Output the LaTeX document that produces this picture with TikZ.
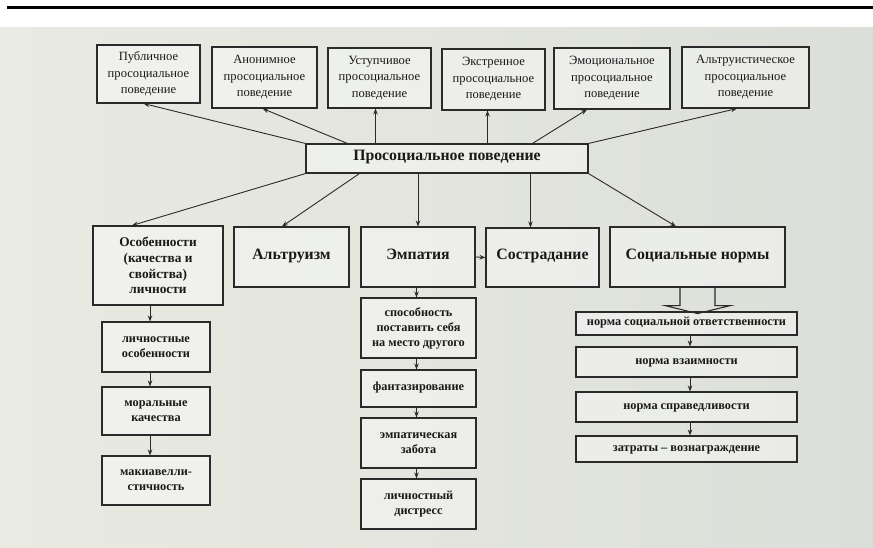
\documentclass[tikz,border=0pt]{standalone}
\usepackage{fontspec}
\setmainfont{Liberation Serif}
\usetikzlibrary{arrows.meta,calc}
\definecolor{ink}{HTML}{2A2A2A}
\definecolor{bgl}{HTML}{E9EBE2}
\definecolor{bgr}{HTML}{DCDED9}
\begin{document}
\begin{tikzpicture}[x=1pt,y=-1pt,
  box/.style={draw=ink, line width=1.1pt, fill=white, fill opacity=0.4, text opacity=1,
              inner sep=0pt, align=center, text=black!90},
  oneline/.style={text height=0.7em, text depth=0.22em},
  ar/.style={draw=ink, line width=0.9pt, -{Stealth[length=6pt,width=4.5pt]}},
  toptext/.style={font=\fontsize{12.6}{16.5}\selectfont},
  maintext/.style={font=\bfseries\fontsize{15.8}{18}\selectfont},
  osotext/.style={font=\bfseries\fontsize{13.3}{15.8}\selectfont},
  subtext/.style={font=\bfseries\fontsize{12.3}{15}\selectfont}
]
\useasboundingbox (0,0) rectangle (873,548);
\fill[white] (0,0) rectangle (873,548);
\shade[left color=bgl, right color=bgr] (0,28) rectangle (873,548);
\fill[black] (7,6.5) rectangle (873,9.5);

% top row
\node[box, toptext, minimum width=103pt, minimum height=58pt] (t1) at (148.5,74) {Публичное\\просоциальное\\поведение};
\node[box, toptext, minimum width=105pt, minimum height=61pt] (t2) at (264.5,77.5) {Анонимное\\просоциальное\\поведение};
\node[box, toptext, minimum width=103pt, minimum height=60pt] (t3) at (379.5,78) {Уступчивое\\просоциальное\\поведение};
\node[box, toptext, minimum width=103pt, minimum height=61pt] (t4) at (493.5,79.5) {Экстренное\\просоциальное\\поведение};
\node[box, toptext, minimum width=116pt, minimum height=61pt] (t5) at (612,78.5) {Эмоциональное\\просоциальное\\поведение};
\node[box, toptext, minimum width=127pt, minimum height=61pt] (t6) at (745.5,77.5) {Альтруистическое\\просоциальное\\поведение};

% central
\node[box, maintext, oneline, minimum width=282pt, minimum height=29pt] (c) at (447,158.5) {Просоциальное поведение};

% second row
\node[box, osotext, minimum width=130pt, minimum height=79pt] (o) at (158,265.5) {Особенности\\(качества и\\свойства)\\личности};
\node[box, maintext, oneline, minimum width=115pt, minimum height=60pt] (al) at (291.5,257) {Альтруизм};
\node[box, maintext, oneline, minimum width=114pt, minimum height=60pt] (em) at (418,257) {Эмпатия};
\node[box, maintext, oneline, minimum width=113pt, minimum height=59pt] (so) at (542.5,257.5) {Сострадание};
\node[box, maintext, oneline, minimum width=175pt, minimum height=60pt] (sn) at (697.5,257) {Социальные нормы};

% left column
\node[box, subtext, minimum width=108pt, minimum height=50pt] (l1) at (156,347) {личностные\\особенности};
\node[box, subtext, minimum width=108pt, minimum height=48pt] (l2) at (156,411) {моральные\\качества};
\node[box, subtext, minimum width=108pt, minimum height=49pt] (l3) at (156,480.5) {макиавелли-\\стичность};

% empathy column
\node[box, subtext, minimum width=115pt, minimum height=60pt] (e1) at (418.5,328) {способность\\поставить себя\\на место другого};
\node[box, subtext, oneline, minimum width=115pt, minimum height=37pt] (e2) at (418.5,388.5) {фантазирование};
\node[box, subtext, minimum width=115pt, minimum height=50pt] (e3) at (418.5,443) {эмпатическая\\забота};
\node[box, subtext, minimum width=115pt, minimum height=50pt] (e4) at (418.5,504) {личностный\\дистресс};

% norms column
\node[box, subtext, oneline, minimum width=221pt, minimum height=23pt] (n1) at (686.5,323.5) {норма социальной ответственности};
\node[box, subtext, oneline, minimum width=221pt, minimum height=30pt] (n2) at (686.5,362) {норма взаимности};
\node[box, subtext, oneline, minimum width=221pt, minimum height=30pt] (n3) at (686.5,407) {норма справедливости};
\node[box, subtext, oneline, minimum width=221pt, minimum height=26pt] (n4) at (686.5,449) {затраты – вознаграждение};

% arrows to top row
\coordinate (a1) at ($(t1.south)+(-5,0)$);
\coordinate (a2) at ($(t2.south)+(-2,0)$);
\coordinate (a3) at ($(t3.south)+(-4,0)$);
\coordinate (a4) at ($(t4.south)+(-6,0)$);
\coordinate (a5) at ($(t5.south)+(-25,0)$);
\coordinate (a6) at ($(t6.south)+(-8.5,0)$);
\coordinate (s2) at ($(c.north west)+(42,0)$);
\coordinate (s5) at ($(c.north west)+(227,0)$);
\draw[ar] (c.north west) -- (a1);
\draw[ar] (s2) -- (a2);
\draw[ar] (a3 |- c.north) -- (a3);
\draw[ar] (a4 |- c.north) -- (a4);
\draw[ar] (s5) -- (a5);
\draw[ar] (c.north east) -- (a6);

% arrows to second row
\coordinate (b1) at ($(o.north)+(-26,0)$);
\coordinate (b2) at ($(al.north)+(-9.5,0)$);
\coordinate (u2) at ($(c.south west)+(54,0)$);
\coordinate (b4) at ($(so.north)+(-12,0)$);
\coordinate (b5) at ($(sn.north)+(-21.5,0)$);
\draw[ar] (c.south west) -- (b1);
\draw[ar] (u2) -- (b2);
\draw[ar] (em.north |- c.south) -- (em.north);
\draw[ar] (b4 |- c.south) -- (b4);
\draw[ar] (c.south east) -- (b5);
\draw[ar] (em.east) -- (so.west);

% left column arrows
\coordinate (p1) at ($(l1.north)+(-6,0)$);
\coordinate (p2) at ($(l2.north)+(-6,0)$);
\coordinate (p3) at ($(l3.north)+(-6,0)$);
\draw[ar] (p1 |- o.south) -- (p1);
\draw[ar] (p2 |- l1.south) -- (p2);
\draw[ar] (p3 |- l2.south) -- (p3);

% empathy column arrows
\coordinate (q1) at ($(e1.north)+(-2,0)$);
\coordinate (q2) at ($(e2.north)+(-2,0)$);
\coordinate (q3) at ($(e3.north)+(-2,0)$);
\coordinate (q4) at ($(e4.north)+(-2,0)$);
\draw[ar] (q1 |- em.south) -- (q1);
\draw[ar] (q2 |- e1.south) -- (q2);
\draw[ar] (q3 |- e2.south) -- (q3);
\draw[ar] (q4 |- e3.south) -- (q4);

% norms arrows
\coordinate (r2) at ($(n2.north)+(3.5,0)$);
\coordinate (r3) at ($(n3.north)+(3.5,0)$);
\coordinate (r4) at ($(n4.north)+(3.5,0)$);
\draw[ar] (r2 |- n1.south) -- (r2);
\draw[ar] (r3 |- n2.south) -- (r3);
\draw[ar] (r4 |- n3.south) -- (r4);

% hollow block arrow
\draw[ink, line width=1.1pt, line join=miter]
  ($(sn.south)+(-17.5,0)$) -- ++(0,18) -- ++(-15,0) -- ($(sn.south)+(0,26)$)
  -- ($(sn.south)+(33,18)$) -- ++(-15.5,0) -- ($(sn.south)+(17.5,0)$);
\end{tikzpicture}
\end{document}
